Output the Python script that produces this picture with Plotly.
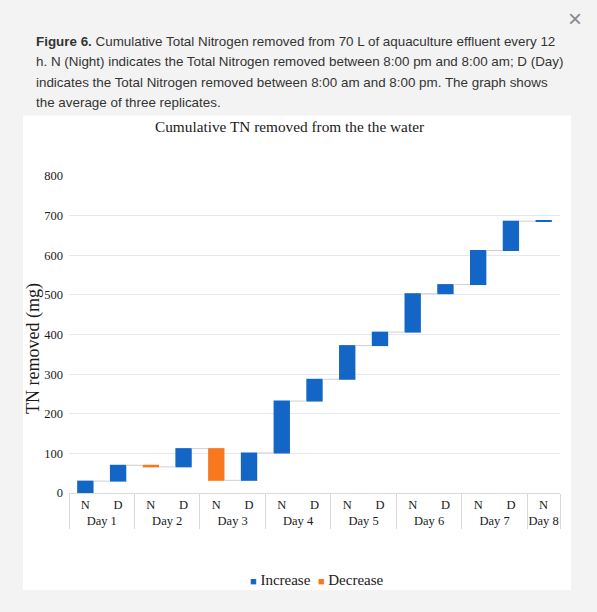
import plotly.graph_objects as go

# ---- data ----
days = ["Day 1", "Day 1", "Day 2", "Day 2", "Day 3", "Day 3", "Day 4", "Day 4",
        "Day 5", "Day 5", "Day 6", "Day 6", "Day 7", "Day 7", "Day 8"]
periods = ["N", "D", "N", "D", "N", "D", "N", "D", "N", "D", "N", "D", "N", "D", "N"]
tn_change = [30, 40, -4, 46, -80, 69, 131, 55, 85, 34, 97, 23, 86, 74, 1.5]
y_ticks = [0, 100, 200, 300, 400, 500, 600, 700, 800]
legend_names = ["Increase", "Decrease"]

caption_lines = [
    "<b>Figure 6.</b> Cumulative Total Nitrogen removed from 70 L of aquaculture effluent every 12",
    "h. N (Night) indicates the Total Nitrogen removed between 8:00 pm and 8:00 am; D (Day)",
    "indicates the Total Nitrogen removed between 8:00 am and 8:00 pm. The graph shows",
    "the average of three replicates.",
]
title_text = "Cumulative TN removed from the the water"
y_title = "TN removed (mg)"

BLUE = "#1466C6"
ORANGE = "#F7781E"
SERIF = "Liberation Serif, Times New Roman, serif"
SANS = "Liberation Sans, Arial, sans-serif"
PAGE_BG = "#f3f3f3"

W, H = 597, 612
ML, MR, MT, MB = 69, 37, 176, 119
PW = W - ML - MR
PH = H - MT - MB


def px(x):
    return (x - ML) / PW


def py(y):
    return (H - MB - y) / PH


fig = go.Figure()
fig.add_trace(go.Waterfall(
    x=[days, periods],
    y=tn_change,
    measure=["relative"] * len(tn_change),
    increasing=dict(marker=dict(color=BLUE)),
    decreasing=dict(marker=dict(color=ORANGE)),
    connector=dict(line=dict(color="#d0d0d0", width=1)),
    width=0.5,
    showlegend=False,
    hoverinfo="x+y",
))

shapes = [dict(type="rect", xref="paper", yref="paper", layer="below",
               x0=px(23), x1=px(571), y0=py(590), y1=py(115.5),
               fillcolor="white", line=dict(width=0))]

annotations = []
for i, line in enumerate(caption_lines):
    annotations.append(dict(text=line, xref="paper", yref="paper", x=px(34), y=py(41 + i * 20.5),
                            xanchor="left", yanchor="middle", showarrow=False,
                            font=dict(family=SANS, size=13.4, color="#333333")))
annotations.append(dict(text="×", xref="paper", yref="paper", x=px(575), y=py(18),
                        xanchor="center", yanchor="middle", showarrow=False,
                        font=dict(family=SANS, size=24, color="#8a8a8a")))
annotations.append(dict(text=title_text, xref="paper", yref="paper", x=px(289), y=py(126),
                        xanchor="center", yanchor="middle", showarrow=False,
                        font=dict(family=SERIF, size=15.3, color="#1a1a1a")))
annotations.append(dict(text=y_title, xref="paper", yref="paper", x=px(33), y=py(349),
                        xanchor="center", yanchor="middle", showarrow=False, textangle=-90,
                        font=dict(family=SERIF, size=18, color="#1a1a1a")))

# compact legend (Increase / Decrease keys)
legend_text = (
    f"<span style='color:{BLUE};font-size:11px'>■</span>&nbsp;{legend_names[0]}&nbsp;&nbsp;"
    f"<span style='color:{ORANGE};font-size:11px'>■</span>&nbsp;{legend_names[1]}"
)
annotations.append(dict(text=legend_text, xref="paper", yref="paper", x=px(317), y=py(580),
                        xanchor="center", yanchor="middle", showarrow=False,
                        font=dict(family=SERIF, size=15, color="#1a1a1a")))

fig.update_layout(
    width=W, height=H,
    margin=dict(l=ML, r=MR, t=MT, b=MB),
    paper_bgcolor=PAGE_BG,
    plot_bgcolor="white",
    shapes=shapes,
    annotations=annotations,
    bargap=0.5,
    showlegend=False,
    xaxis=dict(type="multicategory", showline=True, linecolor="#d9d9d9", linewidth=1,
               showgrid=False, showdividers=True, dividercolor="#d9d9d9", dividerwidth=1,
               tickfont=dict(family=SERIF, size=12.5, color="#1a1a1a"), ticks=""),
    yaxis=dict(range=[0, 800], tickvals=y_ticks, showgrid=True, gridcolor="#e6e8ee",
               gridwidth=1, zeroline=False, showline=False, ticks="",
               ticklabelstandoff=5,
               tickfont=dict(family=SERIF, size=12.5, color="#1a1a1a")),
    font=dict(family=SERIF),
)

fig.write_html(
    "out.html",
    config={"displayModeBar": False},
    post_script=f"document.body.style.margin='0';document.body.style.background='{PAGE_BG}';",
)
